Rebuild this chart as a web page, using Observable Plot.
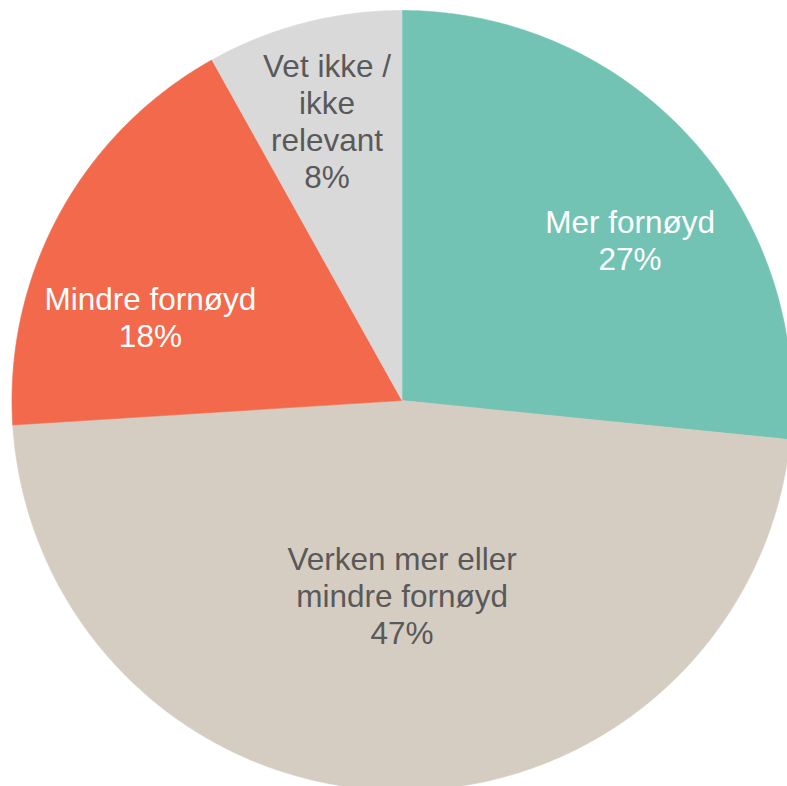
<!DOCTYPE html>
<html>
<head>
<meta charset="utf-8">
<script src="https://cdn.jsdelivr.net/npm/d3@7"></script>
<script src="https://cdn.jsdelivr.net/npm/@observablehq/plot@0.6"></script>
<style>
  html, body { margin: 0; padding: 0; background: #ffffff; }
  #chart svg { display: block; }
</style>
</head>
<body>
<div id="chart"></div>
<script>
// ---- data ----
const categories = ["Mer fornøyd", "Verken mer eller mindre fornøyd", "Mindre fornøyd", "Vet ikke / ikke relevant"];
const displayNames = ["Mer fornøyd", "Verken mer eller\nmindre fornøyd", "Mindre fornøyd", "Vet ikke /\nikke\nrelevant"];
const values = [26.6, 47.4, 17.9, 8.1];

// ---- styles ----
const colors = ["#72c3b4", "#d5cdc1", "#f26a4b", "#d9d9d9"];
const labelColors = ["#ffffff", "#595959", "#ffffff", "#595959"];
// label placement: radius (fraction of pie radius) and angular nudge (degrees) from slice mid-angle
const labelRadius = [0.715, 0.5, 0.68, 0.744];
const labelNudge = [7, -1.1, -10.2, -0.4];

// ---- layout ----
const W = 787, H = 786;
const R = 390, CX = 401.5, CY = 400;

const total = d3.sum(values);
let acc = 0;
const slices = categories.map((c, i) => {
  const a0 = acc / total * 360;
  acc += values[i];
  const a1 = acc / total * 360;
  return {cat: c, i, a0, a1};
});

const rad = (deg) => deg * Math.PI / 180;
// polygon points for each slice (unit radius; angle measured clockwise from 12 o'clock)
const slicePts = slices.flatMap(s => {
  const n = Math.max(2, Math.ceil((s.a1 - s.a0) / 0.5));
  const arc = d3.range(n + 1).map(k => {
    const a = rad(s.a0 + (s.a1 - s.a0) * k / n);
    return {cat: s.cat, x: Math.sin(a), y: Math.cos(a)};
  });
  return [{cat: s.cat, x: 0, y: 0}, ...arc, {cat: s.cat, x: 0, y: 0}];
});

const labels = slices.map(s => {
  const a = rad((s.a0 + s.a1) / 2 + labelNudge[s.i]);
  const r = labelRadius[s.i];
  return {
    cat: s.cat,
    x: r * Math.sin(a),
    y: r * Math.cos(a),
    text: displayNames[s.i] + "\n" + Math.round(values[s.i]) + "%",
    color: labelColors[s.i]
  };
});

const textOpts = {
  x: "x", y: "y", text: "text",
  fontSize: 31.5, lineHeight: 1.175,
  fontFamily: "Liberation Sans, Arial, sans-serif",
  textAnchor: "middle", lineAnchor: "middle"
};

const chart = Plot.plot({
  width: W, height: H,
  margin: 0,
  x: {domain: [-CX / R, (W - CX) / R], axis: null},
  y: {domain: [-(H - CY) / R, CY / R], axis: null},
  color: {domain: categories, range: colors},
  style: {background: "#ffffff"},
  marks: [
    Plot.line(slicePts, {x: "x", y: "y", z: "cat", fill: "cat", stroke: "cat", strokeWidth: 0.6, curve: "linear"}),
    Plot.text(labels.filter(d => d.color === "#ffffff"), {...textOpts, fill: "#ffffff"}),
    Plot.text(labels.filter(d => d.color !== "#ffffff"), {...textOpts, fill: "#595959"})
  ]
});

document.getElementById("chart").appendChild(chart);
</script>
</body>
</html>
